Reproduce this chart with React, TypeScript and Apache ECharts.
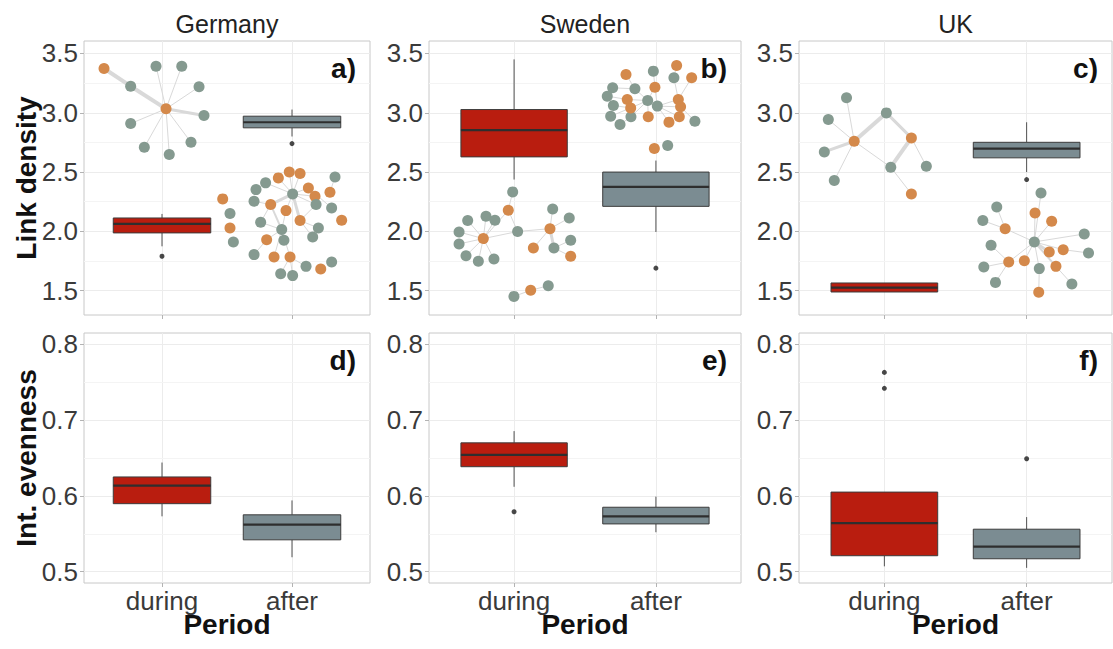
import React, { useEffect, useRef } from 'react';
import * as echarts from 'echarts';

// ---------- data ----------
const countries = ['Germany', 'Sweden', 'UK'];
const panelLetters = ['a)', 'b)', 'c)', 'd)', 'e)', 'f)'];
const periods = ['during', 'after'];
const periodPositions = [1, 2];
const metricNames = ['Link density', 'Int. evenness'];
const linkTicks = [1.5, 2.0, 2.5, 3.0, 3.5];
const linkMinor = [1.75, 2.25, 2.75, 3.25];
const evenTicks = [0.5, 0.6, 0.7, 0.8];
const evenMinor = [0.55, 0.65, 0.75];
const linkLimits = [1.295, 3.605];
const evenLimits = [0.485, 0.815];

// [lower whisker, Q1, median, Q3, upper whisker] per country
const linkDuring = [
  [1.874, 1.987, 2.063, 2.113, 2.147],
  [2.437, 2.628, 2.853, 3.027, 3.45],
  [1.489, 1.489, 1.525, 1.565, 1.565],
];
const linkAfter = [
  [2.8, 2.873, 2.92, 2.971, 3.027],
  [1.995, 2.211, 2.375, 2.5, 2.597],
  [2.5, 2.62, 2.698, 2.751, 2.92],
];
const linkOutDuring = [[1.79], [], []];
const linkOutAfter = [[2.74], [1.69], [2.437]];

const evenDuring = [
  [0.573, 0.5897, 0.6136, 0.625, 0.644],
  [0.612, 0.6385, 0.654, 0.67, 0.6855],
  [0.507, 0.521, 0.564, 0.605, 0.605],
];
const evenAfter = [
  [0.519, 0.542, 0.562, 0.575, 0.594],
  [0.552, 0.563, 0.573, 0.585, 0.599],
  [0.505, 0.517, 0.533, 0.556, 0.572],
];
const evenOutDuring = [[], [0.579], [0.763, 0.742]];
const evenOutAfter = [[], [], [0.649]];

// network insets: nodes [x, y, type(0 gray, 1 orange)], edges [from, to, width]
const germanyDuringNodes = [
  [0.554, 3.373, 1], [0.954, 3.393, 0], [1.152, 3.393, 0], [0.759, 3.224, 0],
  [1.285, 3.219, 0], [1.031, 3.033, 1], [1.323, 2.977, 0], [0.759, 2.909, 0],
  [1.223, 2.751, 0], [0.864, 2.709, 0], [1.056, 2.648, 0],
];
const germanyDuringEdges = [
  [0, 3, 4], [3, 5, 4], [5, 6, 3], [5, 1, 1], [5, 2, 1], [5, 4, 1], [5, 7, 1],
  [5, 8, 1], [5, 9, 1], [5, 10, 1],
];
const germanyAfterNodes = [
  [1.895, 2.451, 1], [1.979, 2.501, 1], [2.062, 2.487, 1], [2.126, 2.366, 1],
  [2.177, 2.296, 1], [2.292, 2.33, 1], [1.467, 2.274, 1], [1.523, 2.029, 1],
  [1.836, 2.226, 1], [1.954, 2.175, 1], [2.062, 2.091, 1], [1.805, 1.93, 1],
  [1.862, 1.784, 1], [1.985, 1.784, 1], [2.221, 1.683, 1], [2.382, 2.094, 1],
  [2.331, 2.459, 0], [1.797, 2.409, 0], [1.723, 2.352, 0], [1.708, 2.254, 0],
  [2.005, 2.316, 0], [2.185, 2.226, 0], [2.305, 2.198, 0], [1.523, 2.15, 0],
  [1.759, 2.077, 0], [1.921, 2.015, 0], [2.203, 2.029, 0], [1.549, 1.911, 0],
  [1.938, 1.925, 0], [2.159, 1.953, 0], [1.708, 1.804, 0], [2.108, 1.705, 0],
  [1.913, 1.643, 0], [2.005, 1.627, 0], [2.305, 1.742, 0],
];
const germanyAfterEdges = [
  [20, 0, 1], [20, 1, 1], [20, 2, 1], [20, 3, 1], [20, 4, 1], [20, 17, 1],
  [20, 8, 3], [20, 10, 3], [20, 9, 1], [20, 21, 1], [8, 19, 1], [8, 24, 1],
  [8, 25, 2], [25, 24, 1], [25, 11, 1], [25, 28, 1], [25, 12, 1], [25, 13, 1],
  [25, 9, 1], [10, 21, 1], [10, 26, 1], [10, 29, 1], [13, 32, 1], [13, 33, 1],
  [13, 31, 1], [11, 30, 1], [17, 18, 1], [3, 22, 1], [5, 16, 1],
];
const swedenDuringNodes = [
  [0.99, 2.333, 0], [0.673, 2.091, 0], [0.802, 2.127, 0], [0.865, 2.094, 0],
  [0.612, 1.995, 0], [0.612, 1.894, 0], [1.025, 1.999, 0], [0.661, 1.795, 0],
  [0.748, 1.748, 0], [0.858, 1.767, 0], [1.272, 2.189, 0], [1.389, 2.113, 0],
  [1.399, 1.925, 0], [1.281, 1.86, 0], [0.999, 1.452, 0], [1.241, 1.542, 0],
  [0.959, 2.178, 1], [0.783, 1.939, 1], [1.253, 2.023, 1], [1.136, 1.86, 1],
  [1.399, 1.79, 1], [1.117, 1.503, 1],
];
const swedenDuringEdges = [
  [0, 16, 1], [16, 17, 1], [16, 6, 1], [17, 1, 1], [17, 2, 1], [17, 3, 1],
  [17, 4, 1], [17, 5, 1], [17, 7, 1], [17, 8, 1], [17, 9, 1], [17, 6, 1],
  [6, 18, 1], [18, 10, 1], [18, 11, 1], [18, 13, 3], [18, 19, 1], [13, 20, 1],
  [13, 12, 1], [14, 21, 1], [21, 15, 1],
];
const swedenAfterNodes = [
  [1.695, 3.21, 0], [1.852, 3.202, 0], [1.657, 3.14, 0], [1.7, 3.061, 0],
  [1.982, 3.351, 0], [2.127, 3.295, 0], [1.942, 3.103, 0], [2.01, 3.056, 0],
  [1.681, 2.971, 0], [1.824, 2.966, 0], [1.747, 2.901, 0], [2.275, 2.929, 0],
  [2.083, 2.724, 0], [1.789, 3.323, 1], [1.993, 3.216, 1], [2.146, 3.399, 1],
  [2.252, 3.295, 1], [1.798, 3.112, 1], [1.822, 3.041, 1], [2.158, 3.112, 1],
  [2.174, 3.05, 1], [1.946, 2.966, 1], [2.165, 2.966, 1], [2.092, 2.921, 1],
  [1.989, 2.698, 1],
];
const swedenAfterEdges = [
  [6, 17, 1], [6, 18, 1], [6, 14, 1], [6, 1, 1], [6, 7, 2], [6, 21, 1],
  [6, 9, 1], [7, 19, 1], [7, 20, 1], [7, 22, 1], [7, 14, 1], [7, 23, 1],
  [1, 0, 1], [17, 2, 1], [18, 3, 1], [9, 10, 1], [18, 8, 1], [14, 4, 1],
  [19, 5, 1], [20, 11, 1], [13, 1, 1], [15, 5, 1], [16, 19, 1],
];
const ukDuringNodes = [
  [0.734, 3.126, 0], [0.606, 2.943, 0], [0.578, 2.67, 0], [0.648, 2.428, 0],
  [1.014, 2.999, 0], [1.045, 2.541, 0], [1.295, 2.549, 0], [0.788, 2.76, 1],
  [1.19, 2.788, 1], [1.19, 2.316, 1],
];
const ukDuringEdges = [
  [7, 0, 1], [7, 1, 1], [7, 2, 3], [7, 3, 1], [7, 4, 4], [7, 5, 1],
  [4, 8, 3], [8, 5, 4], [8, 6, 1], [5, 9, 1],
];
const ukAfterNodes = [
  [2.101, 2.324, 0], [1.79, 2.206, 0], [1.692, 2.091, 0], [1.75, 1.883, 0],
  [2.054, 1.911, 0], [2.405, 1.978, 0], [2.435, 1.818, 0], [1.699, 1.7, 0],
  [2.089, 1.686, 0], [1.781, 1.57, 0], [2.318, 1.556, 0], [2.059, 2.155, 1],
  [2.176, 2.085, 1], [1.849, 2.023, 1], [2.159, 1.826, 1], [2.257, 1.846, 1],
  [1.874, 1.742, 1], [1.984, 1.753, 1], [2.206, 1.705, 1], [2.085, 1.486, 1],
];
const ukAfterEdges = [
  [4, 0, 1], [4, 11, 1], [4, 12, 1], [4, 14, 3], [4, 15, 1], [4, 17, 1],
  [4, 16, 1], [4, 18, 2], [4, 8, 1], [4, 5, 1], [4, 13, 1], [13, 1, 1],
  [13, 2, 1], [16, 7, 1], [16, 3, 1], [16, 9, 1], [15, 6, 1], [18, 10, 1],
  [8, 19, 1],
];

const networks = [
  [[germanyDuringNodes, germanyDuringEdges], [germanyAfterNodes, germanyAfterEdges]],
  [[swedenDuringNodes, swedenDuringEdges], [swedenAfterNodes, swedenAfterEdges]],
  [[ukDuringNodes, ukDuringEdges], [ukAfterNodes, ukAfterEdges]],
];

// ---------- styling / layout ----------
const FONT = '"Liberation Sans", Arial, Helvetica, sans-serif';
const boxColors = ['#b91d0f', '#7b8c92'];
const nodeColors = ['#859a90', '#d4894b'];
const cols = [
  { left: 84, width: 286 },
  { left: 429, width: 312 },
  { left: 799, width: 313 },
];
const rows = [
  { top: 41, height: 274 },
  { top: 333, height: 250 },
];

function buildOption() {
  const grid: any[] = [];
  const xAxis: any[] = [];
  const yAxis: any[] = [];
  const series: any[] = [];
  const graphic: any[] = [];

  for (let r = 0; r < 2; r++) {
    const ticks = r === 0 ? linkTicks : evenTicks;
    const minor = r === 0 ? linkMinor : evenMinor;
    const lim = r === 0 ? linkLimits : evenLimits;
    const statsDuring = r === 0 ? linkDuring : evenDuring;
    const statsAfter = r === 0 ? linkAfter : evenAfter;
    const outDuring = r === 0 ? linkOutDuring : evenOutDuring;
    const outAfter = r === 0 ? linkOutAfter : evenOutAfter;
    for (let c = 0; c < 3; c++) {
      const idx = r * 3 + c;
      grid.push({
        left: cols[c].left,
        top: rows[r].top,
        width: cols[c].width,
        height: rows[r].height,
        show: true,
        borderColor: '#c8c8c8',
        borderWidth: 1,
        backgroundColor: '#ffffff',
        outerBoundsMode: 'none',
      });
      xAxis.push({
        type: 'value',
        gridIndex: idx,
        min: 0.4,
        max: 2.6,
        axisLine: { show: false },
        axisTick: {
          show: true,
          customValues: periodPositions,
          length: 4,
          lineStyle: { color: '#b3b3b3' },
        },
        axisLabel: {
          show: r === 1,
          customValues: periodPositions,
          formatter: (v: number) => periods[Math.round(v) - 1] ?? '',
          fontSize: 26,
          color: '#3a3a3a',
          margin: 5,
          fontFamily: FONT,
        },
        splitLine: { show: true, lineStyle: { color: '#ececec', width: 1 } },
      });
      yAxis.push({
        type: 'value',
        gridIndex: idx,
        min: lim[0],
        max: lim[1],
        axisLine: { show: false },
        axisTick: {
          show: true,
          customValues: ticks,
          length: 4,
          lineStyle: { color: '#b3b3b3' },
        },
        axisLabel: {
          show: true,
          customValues: ticks,
          formatter: (v: number) => v.toFixed(1),
          fontSize: 26,
          color: '#3a3a3a',
          margin: 6,
          fontFamily: FONT,
        },
        splitLine: { show: true, lineStyle: { color: '#ececec', width: 1 } },
      });

      // minor grid lines
      series.push({
        type: 'scatter',
        xAxisIndex: idx,
        yAxisIndex: idx,
        data: [],
        silent: true,
        z: 0,
        markLine: {
          silent: true,
          symbol: 'none',
          z: 0,
          label: { show: false },
          lineStyle: { color: '#f4f4f4', width: 1, type: 'solid' },
          data: minor.map((v) => ({ yAxis: v })),
        },
      });

      // network insets
      if (r === 0) {
        networks[c].forEach(([nodes, edges]: any) => {
          series.push({
            type: 'graph',
            layout: 'none',
            coordinateSystem: 'cartesian2d',
            xAxisIndex: idx,
            yAxisIndex: idx,
            silent: true,
            z: 1,
            symbol: 'circle',
            symbolSize: 11,
            label: { show: false },
            lineStyle: { color: '#d9d9d9', opacity: 1, curveness: 0 },
            data: nodes.map((n: number[]) => ({
              value: [n[0], n[1]],
              itemStyle: { color: nodeColors[n[2]] },
            })),
            links: edges.map((e: number[]) => ({
              source: e[0],
              target: e[1],
              lineStyle: { width: e[2] },
            })),
          });
        });
      }

      // boxplots
      series.push({
        type: 'custom',
        xAxisIndex: idx,
        yAxisIndex: idx,
        silent: true,
        z: 3,
        encode: { x: 0, y: [1, 2, 3, 4, 5] },
        data: [
          [periodPositions[0], ...statsDuring[c]],
          [periodPositions[1], ...statsAfter[c]],
        ],
        renderItem: (params: any, api: any) => {
          const x = api.value(0);
          const lo = api.value(1);
          const q1 = api.value(2);
          const med = api.value(3);
          const q3 = api.value(4);
          const hi = api.value(5);
          const half = 0.375;
          const tl = api.coord([x - half, q3]);
          const br = api.coord([x + half, q1]);
          const mid = api.coord([x, med]);
          const top = api.coord([x, hi]);
          const bot = api.coord([x, lo]);
          const fill = boxColors[params.dataIndex];
          return {
            type: 'group',
            children: [
              {
                type: 'line',
                shape: { x1: top[0], y1: top[1], x2: top[0], y2: tl[1] },
                style: { stroke: '#505050', lineWidth: 1 },
              },
              {
                type: 'line',
                shape: { x1: bot[0], y1: br[1], x2: bot[0], y2: bot[1] },
                style: { stroke: '#505050', lineWidth: 1 },
              },
              {
                type: 'rect',
                shape: { x: tl[0], y: tl[1], width: br[0] - tl[0], height: br[1] - tl[1] },
                style: { fill, stroke: '#3c3c3c', lineWidth: 1 },
              },
              {
                type: 'line',
                shape: { x1: tl[0], y1: mid[1], x2: br[0], y2: mid[1] },
                style: { stroke: '#2e2e2e', lineWidth: 2.2 },
              },
            ],
          };
        },
      });

      // outliers
      const outs: number[][] = [];
      outDuring[c].forEach((v) => outs.push([periodPositions[0], v]));
      outAfter[c].forEach((v) => outs.push([periodPositions[1], v]));
      series.push({
        type: 'scatter',
        xAxisIndex: idx,
        yAxisIndex: idx,
        silent: true,
        z: 4,
        symbolSize: 5,
        itemStyle: { color: '#1a1a1a' },
        data: outs,
      });

      // panel letter
      graphic.push({
        type: 'text',
        x: cols[c].left + cols[c].width - 14,
        y: rows[r].top + 27,
        style: {
          text: panelLetters[idx],
          font: `bold 28px ${FONT}`,
          fill: '#111',
          align: 'right',
          verticalAlign: 'middle',
        },
      });
    }
  }

  // country titles and x titles
  for (let c = 0; c < 3; c++) {
    const cx = cols[c].left + cols[c].width / 2;
    graphic.push({
      type: 'text',
      x: cx,
      y: 24,
      style: {
        text: countries[c],
        font: `25px ${FONT}`,
        fill: '#222',
        align: 'center',
        verticalAlign: 'middle',
      },
    });
    graphic.push({
      type: 'text',
      x: cx,
      y: 624,
      style: {
        text: 'Period',
        font: `bold 28px ${FONT}`,
        fill: '#111',
        align: 'center',
        verticalAlign: 'middle',
      },
    });
  }
  // y titles
  for (let r = 0; r < 2; r++) {
    graphic.push({
      type: 'text',
      x: 26,
      y: rows[r].top + rows[r].height / 2,
      rotation: Math.PI / 2,
      style: {
        text: metricNames[r],
        font: `bold 28px ${FONT}`,
        fill: '#111',
        align: 'center',
        verticalAlign: 'middle',
      },
    });
  }

  return {
    animation: false,
    backgroundColor: '#ffffff',
    grid,
    xAxis,
    yAxis,
    series,
    graphic,
  };
}

export default function App() {
  const ref = useRef<HTMLDivElement>(null);
  useEffect(() => {
    if (!ref.current) return;
    const chart = echarts.init(ref.current, undefined, { renderer: 'svg' });
    chart.setOption(buildOption() as any);
    return () => chart.dispose();
  }, []);
  return (
    <div
      ref={ref}
      style={{ position: 'fixed', left: 0, top: 0, width: 1113, height: 649 }}
    />
  );
}
